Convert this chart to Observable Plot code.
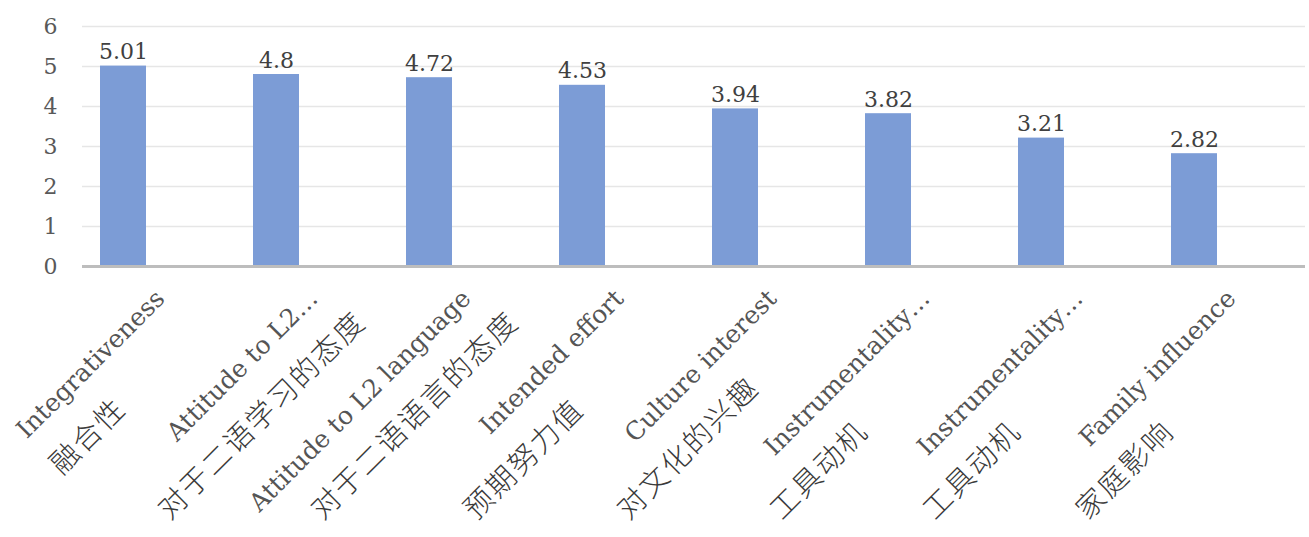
<!DOCTYPE html>
<html>
<head>
<meta charset="utf-8">
<script src="https://cdn.jsdelivr.net/npm/d3@7"></script>
<script src="https://cdn.jsdelivr.net/npm/@observablehq/plot@0.6"></script>
<style>
  html, body { margin: 0; padding: 0; background: #fff; }
  #chart { width: 1309px; height: 537px; }
</style>
</head>
<body>
<div id="chart"></div>
<script>
const categories = ["c1", "c2", "c3", "c4", "c5", "c6", "c7", "c8"];
const labelsEn = ["Integrativeness", "Attitude to L2…", "Attitude to L2 language", "Intended effort",
  "Culture interest", "Instrumentality…", "Instrumentality…", "Family influence"];
const labelsZh = ["融合性", "对于二语学习的态度", "对于二语语言的态度", "预期努力值",
  "对文化的兴趣", "工具动机", "工具动机", "家庭影响"];
const values = [5.01, 4.8, 4.72, 4.53, 3.94, 3.82, 3.21, 2.82];
const yTicks = [0, 1, 2, 3, 4, 5, 6];

const data = categories.map((c, i) => ({cat: c, en: labelsEn[i], zh: labelsZh[i], value: values[i]}));

const chart = Plot.plot({
  width: 1309,
  height: 537,
  marginLeft: 82,
  marginRight: 4,
  marginTop: 26,
  marginBottom: 271,
  style: {fontFamily: "'DejaVu Serif', serif", background: "#fff"},
  x: {type: "band", domain: categories, range: [46.5, 1270.5], paddingInner: 0.7, paddingOuter: 0.35, axis: null},
  y: {domain: [0, 6], axis: null},
  marks: [
    Plot.ruleY(yTicks.filter(t => t > 0), {stroke: "#e6e6e6", strokeWidth: 1.5}),
    Plot.barY(data, {x: "cat", y: "value", fill: "#7c9cd6"}),
    Plot.ruleY([0], {stroke: "#bdbdbd", strokeWidth: 3}),
    Plot.axisY(yTicks, {tickSize: 0, tickPadding: 25, fontSize: 22, fill: "#595959", stroke: null, textStroke: null, label: null}),
    Plot.text(data, {x: "cat", y: "value", text: d => String(d.value), dy: -14, fontSize: 22, fill: "#404040"}),
    Plot.text(data, {x: "cat", y: 0, text: "en", rotate: -45, textAnchor: "end", dx: 37, dy: 28, fontSize: 25, fill: "#555555"}),
    Plot.text(data, {x: "cat", y: 0, text: "zh", rotate: -45, textAnchor: "start", dx: -113, dy: 248, fontSize: 29, fontWeight: 300, fill: "#3a3a3a", fontFamily: "'Noto Sans CJK SC'"})
  ]
});
document.getElementById("chart").appendChild(chart);

// Like the original, keep the Chinese labels inside the chart: slide one that overflows the left edge along its own direction
const minLeft = 38;
const svgLeft = chart.getBoundingClientRect().left;
d3.select(chart).selectAll("text")
  .filter(function() { return labelsZh.includes(this.textContent); })
  .style("letter-spacing", "2px")
  .each(function() {
    const r = this.getBoundingClientRect();
    const left = r.left - svgLeft;
    const t = this.getAttribute("transform") || "";
    if (left < minLeft) {
      const shift = minLeft - left;
      this.setAttribute("transform", `translate(${shift},${-shift}) ` + t);
    }
  });
</script>
</body>
</html>
